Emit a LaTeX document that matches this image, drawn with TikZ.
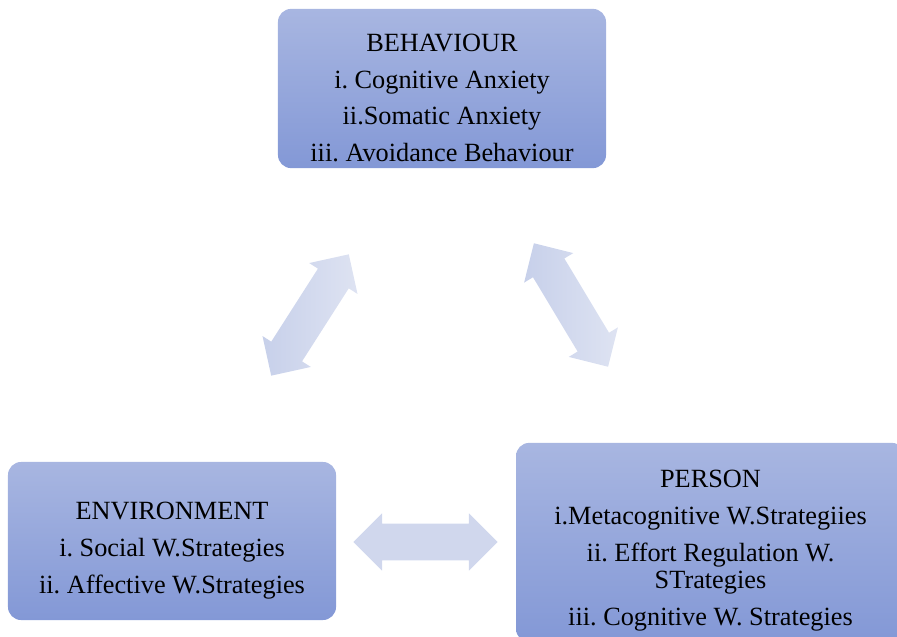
\documentclass[tikz,border=0pt]{standalone}
\usepackage{fontspec}
\setmainfont{Liberation Serif}
\usetikzlibrary{shapes,arrows,calc}
\definecolor{boxtop}{RGB}{168,182,225}
\definecolor{boxbot}{RGB}{131,152,214}
\definecolor{arrdark}{RGB}{199,208,234}
\definecolor{arrlight}{RGB}{222,227,242}
\definecolor{arrmid}{RGB}{208,215,237}
\frenchspacing

\begin{document}
\begin{tikzpicture}[x=0.025cm, y=-0.025cm,
    box/.style={rectangle, rounded corners=0.33cm, top color=boxtop, bottom color=boxbot, draw=none},
    boxtext/.style={align=center, font=\fontsize{18.7}{19.2}\selectfont, inner sep=0pt},
    dblarrow/.style={double arrow, double arrow head extend=0.26cm, double arrow tip angle=90, inner xsep=0pt, inner ysep=0.45cm, minimum height=3.6cm, left color=arrdark, right color=arrlight, draw=none}]

    \useasboundingbox (0,0) rectangle (897,637);
    \clip (0,0) rectangle (897,637);

    % three boxes
    \node[box, minimum width=8.2cm, minimum height=3.98cm] (behav) at (442,88.5) {};
    \node[box, minimum width=8.2cm, minimum height=3.95cm] (env) at (172,541) {};
    \node[box, minimum width=9.72cm, minimum height=4.98cm] (person) at (710.5,542.5) {};

    \node[boxtext] (behavtxt) at ($(behav.center)+(0,9.5)$) {BEHAVIOUR\\[6.8pt] i. Cognitive Anxiety\\[6.8pt] ii.Somatic Anxiety\\[6.8pt] iii. Avoidance Behaviour};
    \node[boxtext] (envtxt) at ($(env.center)+(0,9.5)$) {ENVIRONMENT\\[7.2pt] i. Social W.Strategies\\[7.2pt] ii. Affective W.Strategies};
    \node[boxtext] (persontxt) at (710.5,550.5) {PERSON\\[7.2pt] i.Metacognitive W.Strategiies\\[7.2pt] ii. Effort Regulation W.\\ STrategies\\[7.2pt] iii. Cognitive W. Strategies};

    % block arrows between the boxes
    \node[dblarrow, rotate=57.4] (envbehav) at (310,315) {};
    \node[dblarrow, rotate=-59] (behavperson) at (571,305) {};
    \node[dblarrow, left color=arrmid, right color=arrmid] (envperson) at (425.5,542) {};
\end{tikzpicture}
\end{document}
